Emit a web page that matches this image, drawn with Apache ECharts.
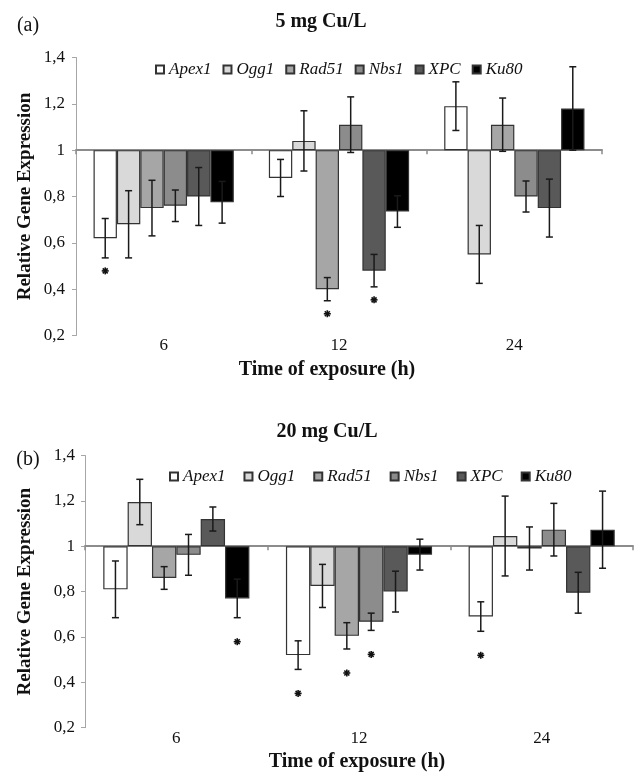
<!DOCTYPE html>
<html>
<head>
<meta charset="utf-8">
<script src="https://cdn.jsdelivr.net/npm/echarts@6/dist/echarts.min.js"></script>
<style>html,body{margin:0;padding:0;background:#fff;}#c{width:640px;height:774px;}</style>
</head>
<body>
<div id="c"></div>
<script>
// ---------- data ----------
const categories = ['6', '12', '24'];
const genes = ['Apex1', 'Ogg1', 'Rad51', 'Nbs1', 'XPC', 'Ku80'];
const yTickLabels = ['0,2', '0,4', '0,6', '0,8', '1', '1,2', '1,4'];

// Panel (a) 5 mg Cu/L
const a_Apex1 = [0.62, 0.88, 1.19];
const a_Ogg1  = [0.68, 1.04, 0.55];
const a_Rad51 = [0.75, 0.40, 1.11];
const a_Nbs1  = [0.76, 1.11, 0.80];
const a_XPC   = [0.80, 0.48, 0.75];
const a_Ku80  = [0.775, 0.735, 1.18];
const a_err_Apex1 = [0.085, 0.08, 0.105];
const a_err_Ogg1  = [0.145, 0.13, 0.125];
const a_err_Rad51 = [0.12, 0.05, 0.115];
const a_err_Nbs1  = [0.068, 0.12, 0.067];
const a_err_XPC   = [0.125, 0.07, 0.125];
const a_err_Ku80  = [0.09, 0.068, 0.18];
const a_sig_Apex1 = [1, 0, 0];
const a_sig_Ogg1  = [0, 0, 0];
const a_sig_Rad51 = [0, 1, 0];
const a_sig_Nbs1  = [0, 0, 0];
const a_sig_XPC   = [0, 1, 0];
const a_sig_Ku80  = [0, 0, 0];

// Panel (b) 20 mg Cu/L
const b_Apex1 = [0.81, 0.52, 0.69];
const b_Ogg1  = [1.195, 0.825, 1.045];
const b_Rad51 = [0.86, 0.605, 0.99];
const b_Nbs1  = [0.962, 0.667, 1.073];
const b_XPC   = [1.12, 0.80, 0.795];
const b_Ku80  = [0.77, 0.963, 1.073];
const b_err_Apex1 = [0.125, 0.063, 0.065];
const b_err_Ogg1  = [0.10, 0.095, 0.176];
const b_err_Rad51 = [0.05, 0.058, 0.095];
const b_err_Nbs1  = [0.09, 0.038, 0.116];
const b_err_XPC   = [0.053, 0.09, 0.09];
const b_err_Ku80  = [0.085, 0.068, 0.17];
const b_sig_Apex1 = [0, 1, 1];
const b_sig_Ogg1  = [0, 0, 0];
const b_sig_Rad51 = [0, 1, 0];
const b_sig_Nbs1  = [0, 1, 0];
const b_sig_XPC   = [0, 0, 0];
const b_sig_Ku80  = [1, 0, 0];

// ---------- styling ----------
const BASE = 1; // bars grow from 1
const serif = '"Liberation Serif", "Times New Roman", serif';
const fills = ['#ffffff', '#d9d9d9', '#a6a6a6', '#8c8c8c', '#595959', '#000000'];
const panels = [
  {
    vals: [a_Apex1, a_Ogg1, a_Rad51, a_Nbs1, a_XPC, a_Ku80],
    errs: [a_err_Apex1, a_err_Ogg1, a_err_Rad51, a_err_Nbs1, a_err_XPC, a_err_Ku80],
    sigs: [a_sig_Apex1, a_sig_Ogg1, a_sig_Rad51, a_sig_Nbs1, a_sig_XPC, a_sig_Ku80],
    grid: {left: 76, right: 38, top: 57.5, bottom: 438.5},
    legend: {left: 150, top: 56, itemGap: 11},
    starOffset: 13, labelMargin: 11
  },
  {
    vals: [b_Apex1, b_Ogg1, b_Rad51, b_Nbs1, b_XPC, b_Ku80],
    errs: [b_err_Apex1, b_err_Ogg1, b_err_Rad51, b_err_Nbs1, b_err_XPC, b_err_Ku80],
    sigs: [b_sig_Apex1, b_sig_Ogg1, b_sig_Rad51, b_sig_Nbs1, b_sig_XPC, b_sig_Ku80],
    grid: {left: 85, right: 7, top: 455.5, bottom: 46.3},
    legend: {left: 164, top: 463, itemGap: 18},
    starOffset: 24, labelMargin: 10
  }
];

function errRender(gi, starOffset) {
  return function (params, api) {
    const cat = api.value(0), v = api.value(1), e = api.value(2), sig = api.value(3);
    const band = api.size([1, 0])[0];
    const bw = band * 0.8 / genes.length;
    const dx = (gi - (genes.length - 1) / 2) * bw;
    const pt = api.coord([cat, v + e]);
    const pb = api.coord([cat, v - e]);
    const x = pt[0] + dx;
    const st = {stroke: '#1a1a1a', lineWidth: 1.5};
    const cw = 3.5;
    const children = [
      {type: 'line', shape: {x1: x, y1: pt[1], x2: x, y2: pb[1]}, style: st},
      {type: 'line', shape: {x1: x - cw, y1: pt[1], x2: x + cw, y2: pt[1]}, style: st},
      {type: 'line', shape: {x1: x - cw, y1: pb[1], x2: x + cw, y2: pb[1]}, style: st}
    ];
    if (sig) {
      const cy = pb[1] + starOffset, r = 3.5;
      const ss = {stroke: '#111', lineWidth: 1.6};
      for (let k = 0; k < 4; k++) {
        const ang = k * Math.PI / 4;
        children.push({type: 'line', shape: {
          x1: x - r * Math.cos(ang), y1: cy - r * Math.sin(ang),
          x2: x + r * Math.cos(ang), y2: cy + r * Math.sin(ang)}, style: ss});
      }
    }
    return {type: 'group', children: children};
  };
}

const grids = [], xAxes = [], yAxes = [], series = [], legends = [];
panels.forEach((p, pi) => {
  grids.push(p.grid);
  // axis line drawn at value 1 (shifted zero)
  xAxes.push({
    type: 'category', gridIndex: pi, data: categories, position: 'bottom',
    axisLine: {show: true, onZero: true, lineStyle: {color: '#8c8c8c', width: 2}},
    axisTick: {show: true, length: 4, lineStyle: {color: '#8c8c8c', width: 1.5}},
    axisLabel: {show: false}, splitLine: {show: false}
  });
  // labels at the bottom
  xAxes.push({
    type: 'category', gridIndex: pi, data: categories, position: 'bottom',
    axisLine: {show: false, onZero: false}, axisTick: {show: false},
    axisLabel: {show: true, margin: 2, color: '#111', fontFamily: serif, fontSize: 17},
    splitLine: {show: false}
  });
  yAxes.push({
    type: 'value', gridIndex: pi, min: 0.2 - BASE, max: 1.4 - BASE, interval: 0.2,
    axisLine: {show: true, lineStyle: {color: '#a6a6a6', width: 1}},
    axisTick: {show: true, length: 4, lineStyle: {color: '#a6a6a6'}},
    splitLine: {show: false},
    axisLabel: {
      margin: p.labelMargin, color: '#111', fontFamily: serif, fontSize: 17,
      formatter: v => yTickLabels[Math.round((v - (0.2 - BASE)) / 0.2)]
    }
  });
  genes.forEach((g, gi) => {
    series.push({
      type: 'bar', name: g, xAxisIndex: pi * 2, yAxisIndex: pi,
      barGap: '0%', barCategoryGap: '20%',
      itemStyle: {color: fills[gi], borderColor: '#333', borderWidth: 1.2},
      emphasis: {disabled: true},
      data: p.vals[gi].map(v => +(v - BASE).toFixed(4)),
      z: 2
    });
  });
  genes.forEach((g, gi) => {
    series.push({
      type: 'custom', name: 'err_' + g + '_' + pi, xAxisIndex: pi * 2, yAxisIndex: pi,
      renderItem: errRender(gi, p.starOffset),
      encode: {x: 0, y: 1},
      data: p.vals[gi].map((v, ci) => [ci, v - BASE, p.errs[gi][ci], p.sigs[gi][ci]]),
      z: 5, silent: true
    });
  });
  legends.push({
    data: genes, left: p.legend.left, top: p.legend.top, itemGap: p.legend.itemGap,
    icon: 'rect', itemWidth: 8, itemHeight: 8, selectedMode: false,
    textStyle: {fontFamily: serif, fontStyle: 'italic', fontSize: 17, color: '#111'}
  });
});

function txt(text, x, y, font, rot) {
  return {type: 'text', x: x, y: y, rotation: rot || 0, silent: true,
    style: {text: text, font: font, fill: '#111', textAlign: 'center', textVerticalAlign: 'middle'}};
}
const bold20 = 'bold 20px ' + serif;
const graphic = [
  txt('(a)', 28, 26, '20px ' + serif),
  txt('5 mg Cu/L', 321, 22, bold20),
  txt('Relative Gene Expression', 25, 196.5, 'bold 19px ' + serif, Math.PI / 2),
  txt('Time of exposure (h)', 327, 370, bold20),
  txt('(b)', 28, 460, '20px ' + serif),
  txt('20 mg Cu/L', 327, 432, bold20),
  txt('Relative Gene Expression', 25, 591.6, 'bold 19px ' + serif, Math.PI / 2),
  txt('Time of exposure (h)', 357, 762, bold20)
];

const chart = echarts.init(document.getElementById('c'), null, {renderer: 'canvas'});
chart.setOption({
  animation: false,
  backgroundColor: '#fff',
  grid: grids, xAxis: xAxes, yAxis: yAxes, series: series, legend: legends,
  graphic: graphic
});
</script>
</body>
</html>
